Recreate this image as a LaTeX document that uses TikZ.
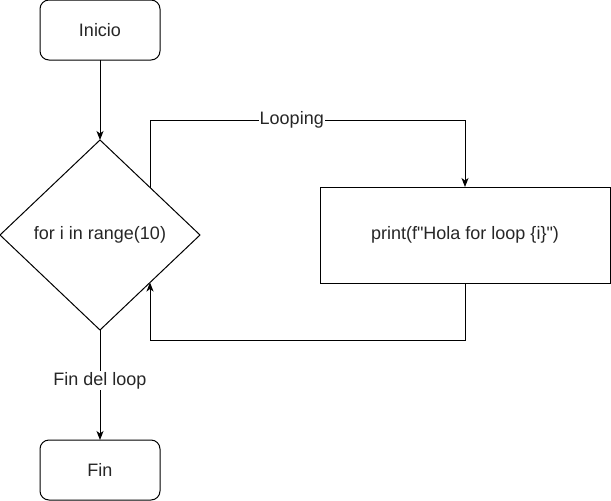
\documentclass[tikz,border=0pt]{standalone}
\usepackage{fontspec}
\setmainfont{Liberation Sans}
\newfontfamily\codefont{Liberation Sans}
\usetikzlibrary{shapes.geometric,arrows.meta,calc}
\begin{document}
\begin{tikzpicture}[x=1pt,y=-1pt,
  every node/.style={font=\fontsize{18}{21}\selectfont, text=black!85},
  term/.style={draw, line width=1pt, rounded corners=9pt, minimum width=120pt, minimum height=60pt, inner sep=0pt, outer sep=0pt},
  proc/.style={draw, line width=1pt, minimum width=290pt, minimum height=96pt, inner sep=0pt, outer sep=0pt},
  decis/.style={draw, line width=1pt, diamond, minimum width=200pt, minimum height=190pt, inner sep=0pt, outer sep=0pt},
  conn/.style={line width=1pt, -{Stealth[length=9pt,width=7pt,inset=2.5pt]}},
  lbl/.style={fill=white, inner sep=1pt}
]
\useasboundingbox (0,0) rectangle (611,501);
\node[term] (inicio) at (100,30) {Inicio};
\node[decis] (loop) at (100,235) {for i in range(10)};
\node[proc] (print) at (465,235) {\codefont print(f"Hola for loop \{i\}")};
\node[term] (fin) at (100,470) {Fin};

\draw[conn] (inicio.south) -- (loop.north);
\draw[conn] (loop.north east) -- ++(0,-67.5) -| node[lbl, pos=0.225] {Looping} (print.north);
\draw[conn] (print.south) -- ++(0,57) -| (loop.south east);
\draw[conn] (loop.south) -- node[lbl, pos=0.46] {Fin del loop} (fin.north);
\end{tikzpicture}
\end{document}
